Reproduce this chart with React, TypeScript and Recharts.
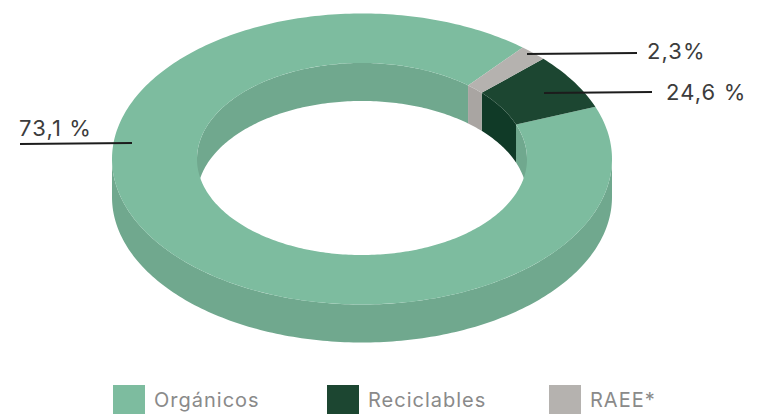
import React from "react";
import { PieChart, Pie, Legend } from "recharts";

const categories = ["Orgánicos", "Reciclables", "RAEE*"];
// Shares as drawn in the picture (the printed labels differ from the drawn slices)
const drawnShares = [91.95, 6.25, 1.8];
const printedLabels = ["73,1 %", "24,6 %", "2,3%"];

const topColors = ["#7dbc9f", "#1c4631", "#b5b2af"];
const wallColors = ["#70a88e", "#103a27", "#a9a5a2"];
const labelLayout = [
  { x1: 20, y1: 144, x2: 132, y2: 143, tx: 19, ty: 136, size: 22 },
  { x1: 544, y1: 93, x2: 652, y2: 92, tx: 666, ty: 100, size: 22 },
  { x1: 527, y1: 54, x2: 637, y2: 53, tx: 647, ty: 59, size: 22 },
];
const legendX = [113, 327, 549];

const W = 763;
const H = 414;
const TILT = 0.582;
const DEPTH = 38;
const FONT = "Inter, 'Noto Sans', sans-serif";

const pt = (cx: number, cy: number, r: number, deg: number, dy = 0) => {
  const a = (deg * Math.PI) / 180;
  return [cx + r * Math.cos(a), cy - r * TILT * Math.sin(a) + dy];
};

const arc = (cx: number, cy: number, r: number, from: number, to: number, dy = 0) => {
  const pts: number[][] = [];
  const n = Math.max(2, Math.ceil(Math.abs(to - from)));
  for (let i = 0; i <= n; i++) pts.push(pt(cx, cy, r, from + ((to - from) * i) / n, dy));
  return pts;
};

const toPath = (pts: number[][]) =>
  "M" + pts.map((p) => `${p[0].toFixed(2)},${p[1].toFixed(2)}`).join("L") + "Z";

const TopShape = (p: any) => {
  const outer = arc(p.cx, p.cy, p.outerRadius, p.startAngle, p.endAngle);
  const inner = arc(p.cx, p.cy, p.innerRadius, p.endAngle, p.startAngle);
  return <path d={toPath([...outer, ...inner])} fill={p.fill} stroke="none" />;
};

const band = (cx: number, cy: number, r: number, a: number, b: number, s: number, e: number) => {
  const from = Math.max(a, s);
  const to = Math.min(b, e);
  if (to <= from) return null;
  return toPath([...arc(cx, cy, r, from, to), ...arc(cx, cy, r, to, from, DEPTH)]);
};

const WallShape = (p: any) => {
  const lo = Math.min(p.startAngle, p.endAngle);
  const hi = Math.max(p.startAngle, p.endAngle);
  const paths = [
    band(p.cx, p.cy, p.outerRadius, 180, 360, lo, hi),
    band(p.cx, p.cy, p.innerRadius, 0, 180, lo, hi),
    band(p.cx, p.cy, p.innerRadius, 360, 540, lo, hi),
  ].filter(Boolean) as string[];
  return (
    <g>
      {paths.map((d, i) => (
        <path key={i} d={d} fill={p.fill} stroke="none" />
      ))}
    </g>
  );
};

const renderLabel = (p: any) => {
  const l = labelLayout[p.index];
  return (
    <g key={p.index}>
      <line x1={l.x1} y1={l.y1} x2={l.x2} y2={l.y2} stroke="#1c1c1c" strokeWidth={2} />
      <text
        x={l.tx}
        y={l.ty}
        fontSize={l.size}
        fontFamily={FONT}
        fill="#3c3c3c"
        textAnchor="start"
        style={{ letterSpacing: 1.1 }}
      >
        {printedLabels[p.index]}
      </text>
    </g>
  );
};

const LegendContent = () => (
  <div style={{ position: "relative", width: W, height: H, overflow: "hidden" }}>
    {categories.map((c, i) => (
      <React.Fragment key={c}>
        <div
          style={{ position: "absolute", left: legendX[i], top: 385, width: 32, height: 29, background: topColors[i] }}
        />
        <div
          style={{
            position: "absolute",
            left: legendX[i] + 41,
            top: 388,
            fontFamily: FONT,
            fontSize: 20,
            letterSpacing: 1,
            lineHeight: "24px",
            color: "#8a8a8a",
            whiteSpace: "nowrap",
          }}
        >
          {c}
        </div>
      </React.Fragment>
    ))}
  </div>
);

const topData = categories.map((name, i) => ({ name, value: drawnShares[i], fill: topColors[i] }));
const wallData = categories.map((name, i) => ({ name, value: drawnShares[i], fill: wallColors[i] }));

export default function App() {
  return (
    <div style={{ position: "absolute", left: 0, top: 0, width: W, height: H, background: "#fff" }}>
      <PieChart width={W} height={H} margin={{ top: 0, right: 0, bottom: 0, left: 0 }}>
        <Pie
          data={wallData}
          dataKey="value"
          nameKey="name"
          cx={362}
          cy={159}
          innerRadius={165}
          outerRadius={250}
          startAngle={50}
          endAngle={410}
          paddingAngle={0}
          stroke="none"
          legendType="none"
          shape={WallShape}
          isAnimationActive={false}
        />
        <Pie
          data={topData}
          dataKey="value"
          nameKey="name"
          cx={362}
          cy={159}
          innerRadius={165}
          outerRadius={250}
          startAngle={50}
          endAngle={410}
          paddingAngle={0}
          stroke="none"
          shape={TopShape}
          label={renderLabel}
          labelLine={false}
          isAnimationActive={false}
        />
        <Legend content={<LegendContent />} wrapperStyle={{ left: 0, top: 0, width: W, height: H, pointerEvents: "none" }} />
      </PieChart>
    </div>
  );
}
